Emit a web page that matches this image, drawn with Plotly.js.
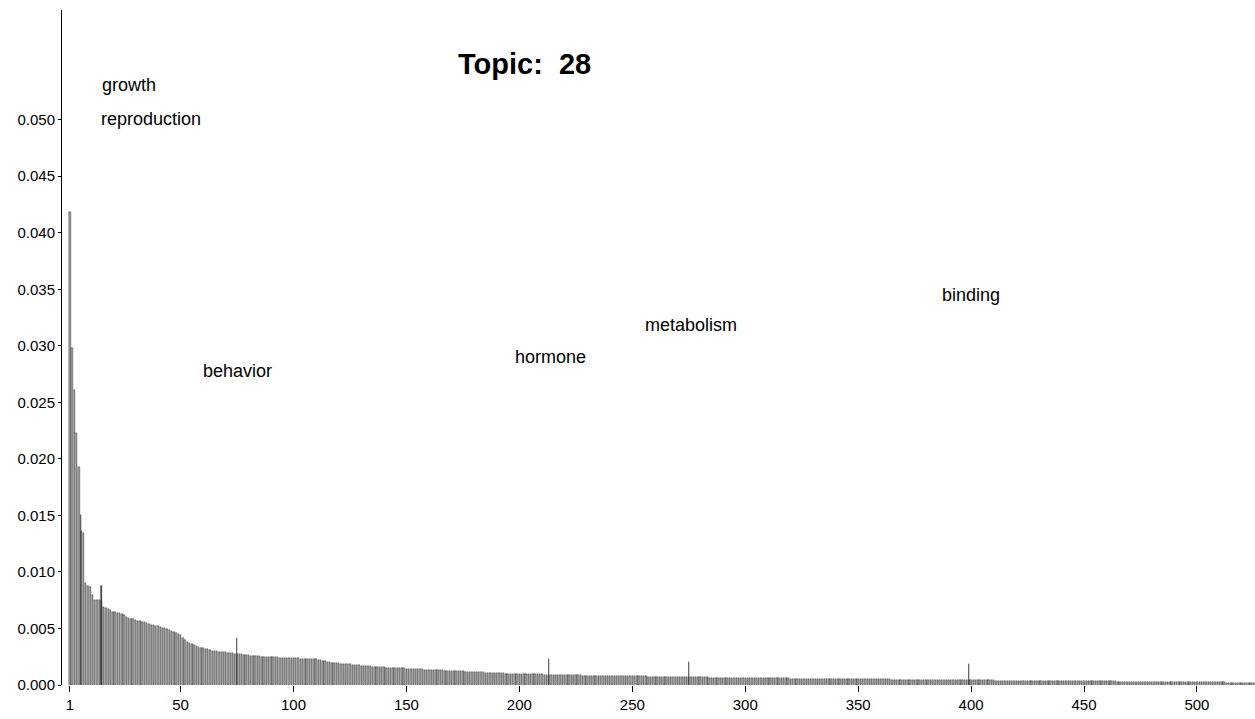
<!DOCTYPE html>
<html>
<head>
<meta charset="utf-8">
<script src="https://cdn.plot.ly/plotly-3.0.1.min.js"></script>
<style>body{margin:0;background:#fff}#plot{width:1255px;height:719px}</style>
</head>
<body>
<div id="plot"></div>
<script>
// word probabilities for topic 28, sorted (units of 1e-5)
const probs = [
4180,2980,2610,2230,1930,1360,1340,900,880,870,800,750,750,750,740,690,
680,670,660,650,645,640,635,630,620,600,590,585,580,575,
570,565,560,555,550,540,535,530,525,520,510,505,500,495,490,480,470,460,450,440,
420,400,380,370,360,350,345,340,330,325,
320,315,310,305,300,297,295,292,290,288,285,282,280,278,275,272,270,268,265,262,
260,258,256,255,254,252,250,249,248,247,246,245,244,243,242,241,240,239,238,237,236,235,234,233,232,231,230,229,228,227,
225,220,215,210,205,200,198,196,194,192,190,188,186,184,182,180,178,176,174,172,
170,168,166,164,162,160,158,157,156,155,154,153,152,151,150,149,148,147,146,145,
144,143,142,141,140,139,138,137,136,135,134,133,132,131,130,129,128,127,126,125,124,123,122,121,120,119,118,117,116,115,114,113,112,111,110,109,108,107,106,105,104,103,102,101,100,100,99,99,98,98,
97,97,96,96,95,95,94,94,93,93,92,92,91,91,90,90,89,89,88,88,87,87,86,86,85,85,85,84,84,84,83,83,83,82,82,82,81,81,81,80,80,80,80,79,79,79,79,78,78,78,
77,77,77,76,76,76,75,75,75,74,74,74,73,73,73,72,72,72,71,71,71,70,70,70,69,69,69,68,68,68,67,67,67,66,66,66,65,65,65,64,64,64,63,63,63,62,62,62,62,61,
61,61,61,61,60,60,60,60,60,59,59,59,59,59,58,58,58,58,58,57,57,57,57,57,56,56,56,56,56,55,55,55,55,55,54,54,54,54,54,53,53,53,53,53,
52,52,52,52,52,51,51,51,51,51,50,50,50,50,50,49,49,49,49,49,48,48,48,48,48,47,47,47,47,47,46,46,46,46,46,45,45,45,45,45,
44,44,44,44,44,43,43,43,43,43,42,42,42,42,42,41,41,41,41,41,
40,40,40,40,40,40,39,39,39,39,39,39,38,38,38,38,38,38,37,37,37,37,37,37,36,36,36,36,36,36,35,35,35,35,35,35,
34,34,34,34,34,34,33,33,33,33,33,33,32,32,32,32,32,32,31,31,31,31,31,31,30,30,30,30,30,30,
29,29,29,29,29,29,28,28,28,28,28,28,27,27,27,27,27,27,26,26,26,26,26,26,25,25,25,25,25,25,
24,24,24,24,24,24,23,23,23,23,23,23,22,22,22,22,22,22,21,21,21,21,21,21,20,20,20,20,20
];
const ranks = probs.map((_, i) => i + 1);
const values = probs.map(v => v / 1e5);

// topic words: rank, probability, label position
const wordNames = ["growth", "reproduction", "behavior", "hormone", "metabolism", "binding"];
const wordRanks = [6, 15, 75, 213, 275, 399];
const wordProbs = [0.0150, 0.0088, 0.0042, 0.0023, 0.0020, 0.0019];
const labelX = [27, 37, 75, 214, 276, 400];
const labelY = [0.0531, 0.0501, 0.0278, 0.0290, 0.0318, 0.0345];

const bars = {
  x: ranks, y: values, type: "bar", width: 0.62,
  marker: { color: "#a0a0a0", line: { color: "#222", width: 0.4 } },
  hoverinfo: "x+y"
};
const spikes = {
  x: wordRanks, y: wordProbs, type: "bar", width: 0.15,
  marker: { color: "#333", line: { color: "#333", width: 0.6 } },
  text: wordNames, textposition: "none", hoverinfo: "text+y"
};

const annotations = wordNames.map((w, i) => ({
  x: labelX[i], y: labelY[i], text: w, showarrow: false,
  font: { size: 18, color: "#000" }
}));
annotations.push({
  xref: "paper", yref: "paper", x: 0.388, y: 0.947, text: "<b>Topic:  28</b>",
  showarrow: false, font: { size: 29, color: "#000" }
});

const layout = {
  width: 1255, height: 719,
  margin: { l: 62, r: 0, t: 10, b: 34 },
  font: { family: "Liberation Sans, Arial, sans-serif", size: 15, color: "#000" },
  showlegend: false, barmode: "overlay", bargap: 0,
  plot_bgcolor: "#fff", paper_bgcolor: "#fff",
  xaxis: {
    range: [-2.5, 525.7], tickvals: [1, 50, 100, 150, 200, 250, 300, 350, 400, 450, 500],
    ticks: "outside", ticklen: 6, tickcolor: "#000", showgrid: false, zeroline: false,
    showline: false
  },
  yaxis: {
    range: [0, 0.0597], tickvals: [0, 0.005, 0.01, 0.015, 0.02, 0.025, 0.03, 0.035, 0.04, 0.045, 0.05],
    tickformat: ".3f", ticks: "outside", ticklen: 3, tickcolor: "#000", showgrid: false,
    zeroline: false, showline: true, linecolor: "#000", linewidth: 1
  },
  annotations: annotations
};

Plotly.newPlot("plot", [bars, spikes], layout, { displayModeBar: false });
</script>
</body>
</html>
